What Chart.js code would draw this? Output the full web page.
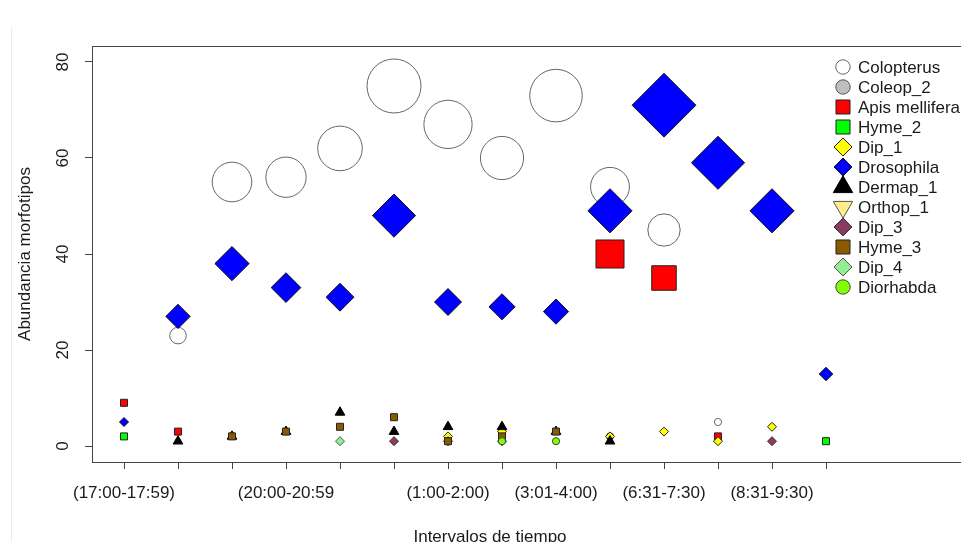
<!DOCTYPE html>
<html><head><meta charset="utf-8">
<script src="https://cdn.jsdelivr.net/npm/chart.js@4/dist/chart.umd.min.js"></script>
<style>
html,body{margin:0;padding:0;background:#fff;overflow:hidden}
#wrap{position:relative;width:961px;height:542px}
#wrap:before{content:"";position:absolute;left:11px;top:28px;bottom:0;border-left:1px solid #ececec}
canvas{display:block}
</style></head><body><div id="wrap"><canvas id="c" width="961" height="542"></canvas></div>
<script>
// ---- data ----
const tickLabels = ['(17:00-17:59)','','','(20:00-20:59','','','(1:00-2:00)','','(3:01-4:00)','','(6:31-7:30)','','(8:31-9:30)',''];
const yTicks = [0,20,40,60,80];
const N = null;
const colopterus = [N,23,55,56,62,75,67,60,73,54,45,5,N,N];
const coleop2    = [N,N,N,N,N,N,N,N,N,2,N,N,N,N];
const apis       = [9,3,N,N,N,N,N,N,N,40,35,2,N,N];
const hyme2      = [2,N,N,N,N,N,N,N,N,N,N,N,N,1];
const dip1       = [N,N,N,N,N,N,2,3,N,2,3,1,4,N];
const drosophila = [5,27,38,33,31,48,30,29,28,49,71,59,49,15];
const dermap1    = [N,1,2,3,7,3,4,4,3,1,N,N,N,N];
const orthop1    = [N,N,N,N,N,N,N,N,N,N,N,N,N,N];
const dip3       = [N,N,N,N,N,1,1,1,N,N,N,N,1,N];
const hyme3      = [N,N,2,3,4,6,1,2,3,N,N,N,N,N];
const dip4       = [N,N,N,N,1,N,N,N,N,N,N,N,N,N];
const diorhabda  = [N,N,N,N,N,N,N,1,1,N,N,N,N,N];

// ---- styling ----
const BASE = {circle:3.6, rect:4.95, rectRot:4.5, triangle:5.6};
const series = [
  ['Colopterus', colopterus, 'circle', '#ffffff', '#666666', 0],
  ['Coleop_2', coleop2, 'circle', '#bebebe', '#555555', 0],
  ['Apis mellifera', apis, 'rect', '#ff0000', '#222222', 0],
  ['Hyme_2', hyme2, 'rect', '#00ff00', '#222222', 0],
  ['Dip_1', dip1, 'rectRot', '#ffff00', '#222222', 0],
  ['Drosophila', drosophila, 'rectRot', '#0000ff', '#111111', 0],
  ['Dermap_1', dermap1, 'triangle', '#000000', '#000000', 0],
  ['Orthop_1', orthop1, 'triangle', '#ffec8b', '#555555', 180],
  ['Dip_3', dip3, 'rectRot', '#8b3a62', '#333333', 0],
  ['Hyme_3', hyme3, 'rect', '#8b5a00', '#222222', 0],
  ['Dip_4', dip4, 'rectRot', '#90ee90', '#555555', 0],
  ['Diorhabda', diorhabda, 'circle', '#7fff00', '#444444', 0]
];
const datasets = series.map(([label, vals, style, fill, border, rot], i) => ({
  label,
  data: vals.map((v, k) => v == null ? null : {x: k, y: v}).filter(Boolean),
  pointStyle: style,
  rotation: rot,
  backgroundColor: fill,
  borderColor: border,
  pointBorderWidth: 1,
  pointRadius: ctx => BASE[style] * Math.max(1, (ctx.raw ? ctx.raw.y : 0) / 10),
  pointHoverRadius: ctx => BASE[style] * Math.max(1, (ctx.raw ? ctx.raw.y : 0) / 10),
  order: series.length - i,
  clip: false
}));

const PLOT_LEFT = 92, PLOT_BOTTOM = 462, PLOT_TOP = 46, PAD_LEFT = 19;
const PX_PER_CAT = 54, FIRST_TICK = 124;
const xMin = -(FIRST_TICK - PLOT_LEFT) / PX_PER_CAT;
const xMax = xMin + (961 - PLOT_LEFT) / PX_PER_CAT;
const yMin = -3.333, yMax = 83.333;
const TEXT = '#1a1a1a', AXIS = '#444444';
const TITLE_LH = 0.6, FS = 17;

const rPlot = {
  id: 'rPlot',
  afterDraw(chart) {
    const {ctx, chartArea: a, scales} = chart;
    ctx.save();
    // box
    ctx.strokeStyle = AXIS; ctx.lineWidth = 1;
    ctx.strokeRect(Math.round(a.left) + 0.5, Math.round(a.top) + 0.5, chart.width - a.left + 20, Math.round(a.bottom - a.top));
    // rotated y tick labels (R style)
    ctx.fillStyle = TEXT;
    ctx.font = FS + "px 'Liberation Sans', Arial, sans-serif";
    ctx.textAlign = 'center'; ctx.textBaseline = 'middle';
    scales.y.ticks.forEach(t => {
      const py = scales.y.getPixelForValue(t.value);
      ctx.save(); ctx.translate(a.left - 29, py); ctx.rotate(-Math.PI / 2);
      ctx.fillText(String(t.value), 0, 0); ctx.restore();
    });
    // legend (no box) inside the plot, top right
    const lx = chart.width - 118, ty = a.top + 21;
    chart.data.datasets.forEach((ds, i) => {
      const y = ty + i * 20;
      ctx.fillStyle = ds.backgroundColor; ctx.strokeStyle = ds.borderColor; ctx.lineWidth = 1;
      Chart.helpers.drawPoint(ctx, {pointStyle: ds.pointStyle, rotation: ds.rotation, radius: BASE[ds.pointStyle] * 2, borderWidth: 1}, lx, y);
      ctx.fillStyle = TEXT; ctx.textAlign = 'left'; ctx.textBaseline = 'middle';
      ctx.fillText(ds.label, lx + 15, y + 1);
    });
    ctx.restore();
  }
};

Chart.defaults.font.family = "'Liberation Sans', Arial, sans-serif";
Chart.defaults.font.size = FS;
Chart.defaults.color = TEXT;

new Chart(document.getElementById('c'), {
  type: 'scatter',
  data: {datasets},
  options: {
    responsive: false,
    animation: false,
    events: [],
    layout: {autoPadding: false, padding: {left: PAD_LEFT, right: 0, top: PLOT_TOP, bottom: 0}},
    plugins: {
      legend: {display: false},
      tooltip: {enabled: false},
      title: {display: true, position: 'bottom', text: 'Intervalos de tiempo', color: TEXT,
              font: {size: FS, weight: 'normal', lineHeight: TITLE_LH}, padding: 0}
    },
    scales: {
      x: {
        type: 'linear', min: xMin, max: xMax,
        afterBuildTicks: s => { s.ticks = tickLabels.map((_, i) => ({value: i})); },
        afterFit: s => { s.height = 542 - FS * TITLE_LH - PLOT_BOTTOM; },
        ticks: {autoSkip: false, maxRotation: 0, minRotation: 0, padding: 14, color: TEXT,
                callback: v => tickLabels[v] ?? ''},
        grid: {display: true, drawOnChartArea: false, drawTicks: true, tickLength: 7, color: AXIS},
        border: {display: false}
      },
      y: {
        type: 'linear', min: yMin, max: yMax,
        afterBuildTicks: s => { s.ticks = yTicks.map(v => ({value: v})); },
        afterFit: s => { s.width = PLOT_LEFT - PAD_LEFT; },
        ticks: {display: false},
        grid: {display: true, drawOnChartArea: false, drawTicks: true, tickLength: 7, color: AXIS},
        border: {display: false},
        title: {display: true, text: 'Abundancia morfotipos', color: TEXT,
                font: {size: FS, lineHeight: 0.8}, padding: 0}
      }
    }
  },
  plugins: [rPlot]
});
</script></body></html>
